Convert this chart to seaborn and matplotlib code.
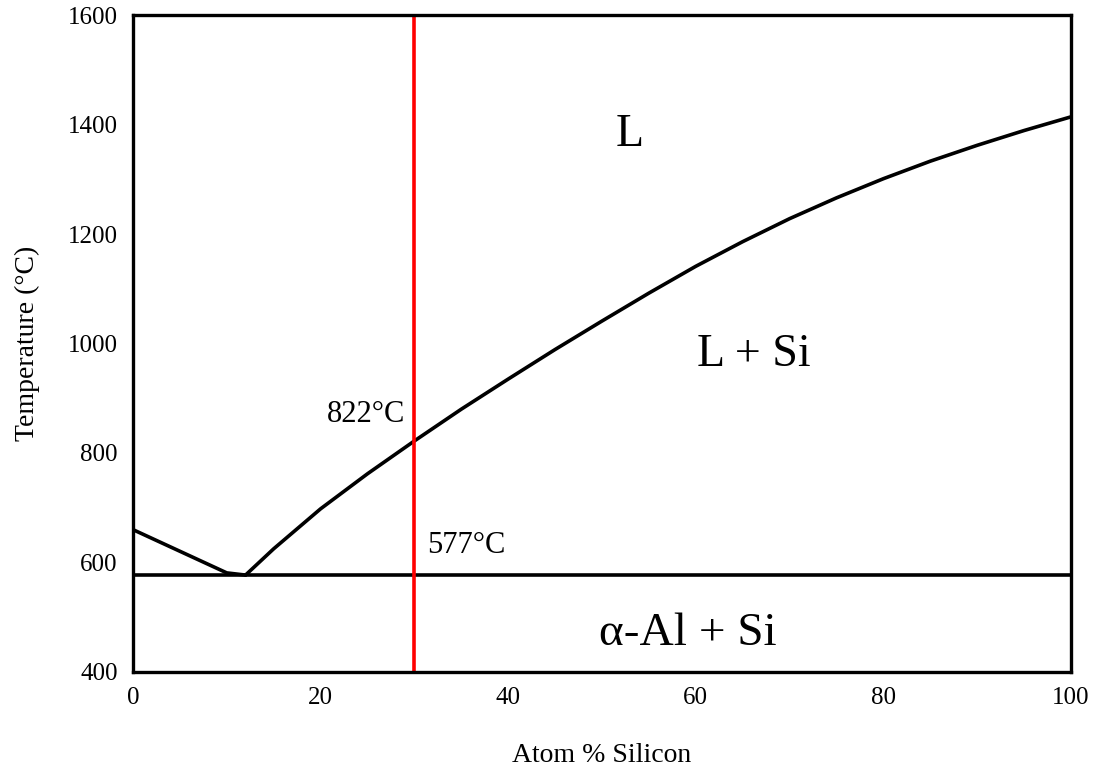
import matplotlib
matplotlib.use("Agg")
import matplotlib.pyplot as plt
import seaborn as sns

# Liquidus (Al side)
al_x = [0, 10, 12]
al_t = [660, 581, 577]
# Liquidus (Si side)
si_x = [12, 15, 20, 25, 30, 35, 40, 45, 50, 55, 60, 65, 70, 75, 80, 85, 90, 95, 100]
si_t = [577, 625, 698, 762, 822, 880, 935, 989, 1041, 1092, 1141, 1186, 1228, 1266, 1301, 1333, 1362, 1389, 1414]
# Eutectic isotherm
eut_x = [0, 100]
eut_t = [577, 577]
# Composition line
comp_x = [30, 30]
comp_t = [400, 1600]

x_ticks = [0, 20, 40, 60, 80, 100]
y_ticks = [400, 600, 800, 1000, 1200, 1400, 1600]

sns.set_style("white")
plt.rcParams['font.family'] = ['Liberation Serif', 'DejaVu Serif']
plt.rcParams['text.color'] = 'black'
plt.rcParams['axes.labelcolor'] = 'black'

fig = plt.figure(figsize=(10.99, 7.70), dpi=100)
ax = fig.add_axes([0.121, 0.1273, 0.8535, 0.8532])

lw = 2.6
kw = dict(ax=ax, linewidth=lw, sort=False, estimator=None, errorbar=None)
sns.lineplot(x=al_x, y=al_t, color='black', **kw)
sns.lineplot(x=si_x, y=si_t, color='black', **kw)
sns.lineplot(x=eut_x, y=eut_t, color='black', **kw)
sns.lineplot(x=comp_x, y=comp_t, color='#ff0000', **kw)

ax.set_xlim(0, 100)
ax.set_ylim(400, 1600)
ax.set_xticks(x_ticks)
ax.set_yticks(y_ticks)
ax.tick_params(direction='in', length=6, width=1.3, labelsize=18, pad=11,
               colors='black', labelcolor='black')
for s in ax.spines.values():
    s.set_linewidth(2.4)
    s.set_color('black')

ax.set_xlabel('Atom % Silicon', fontsize=20, labelpad=24, color='black')
ax.set_ylabel('Temperature (°C)', fontsize=20, labelpad=20, color='black')

ax.text(53, 1382, 'L', fontsize=33, ha='center', va='center', color='black')
ax.text(66.2, 980, 'L + Si', fontsize=33, ha='center', va='center', color='black')
ax.text(59.2, 470, 'α-Al + Si', fontsize=34, ha='center', va='center', color='black')
ax.text(24.8, 870, '822°C', fontsize=22, ha='center', va='center', color='black')
ax.text(35.5, 631, '577°C', fontsize=22, ha='center', va='center', color='black')

fig.savefig('out.png', dpi=100)
